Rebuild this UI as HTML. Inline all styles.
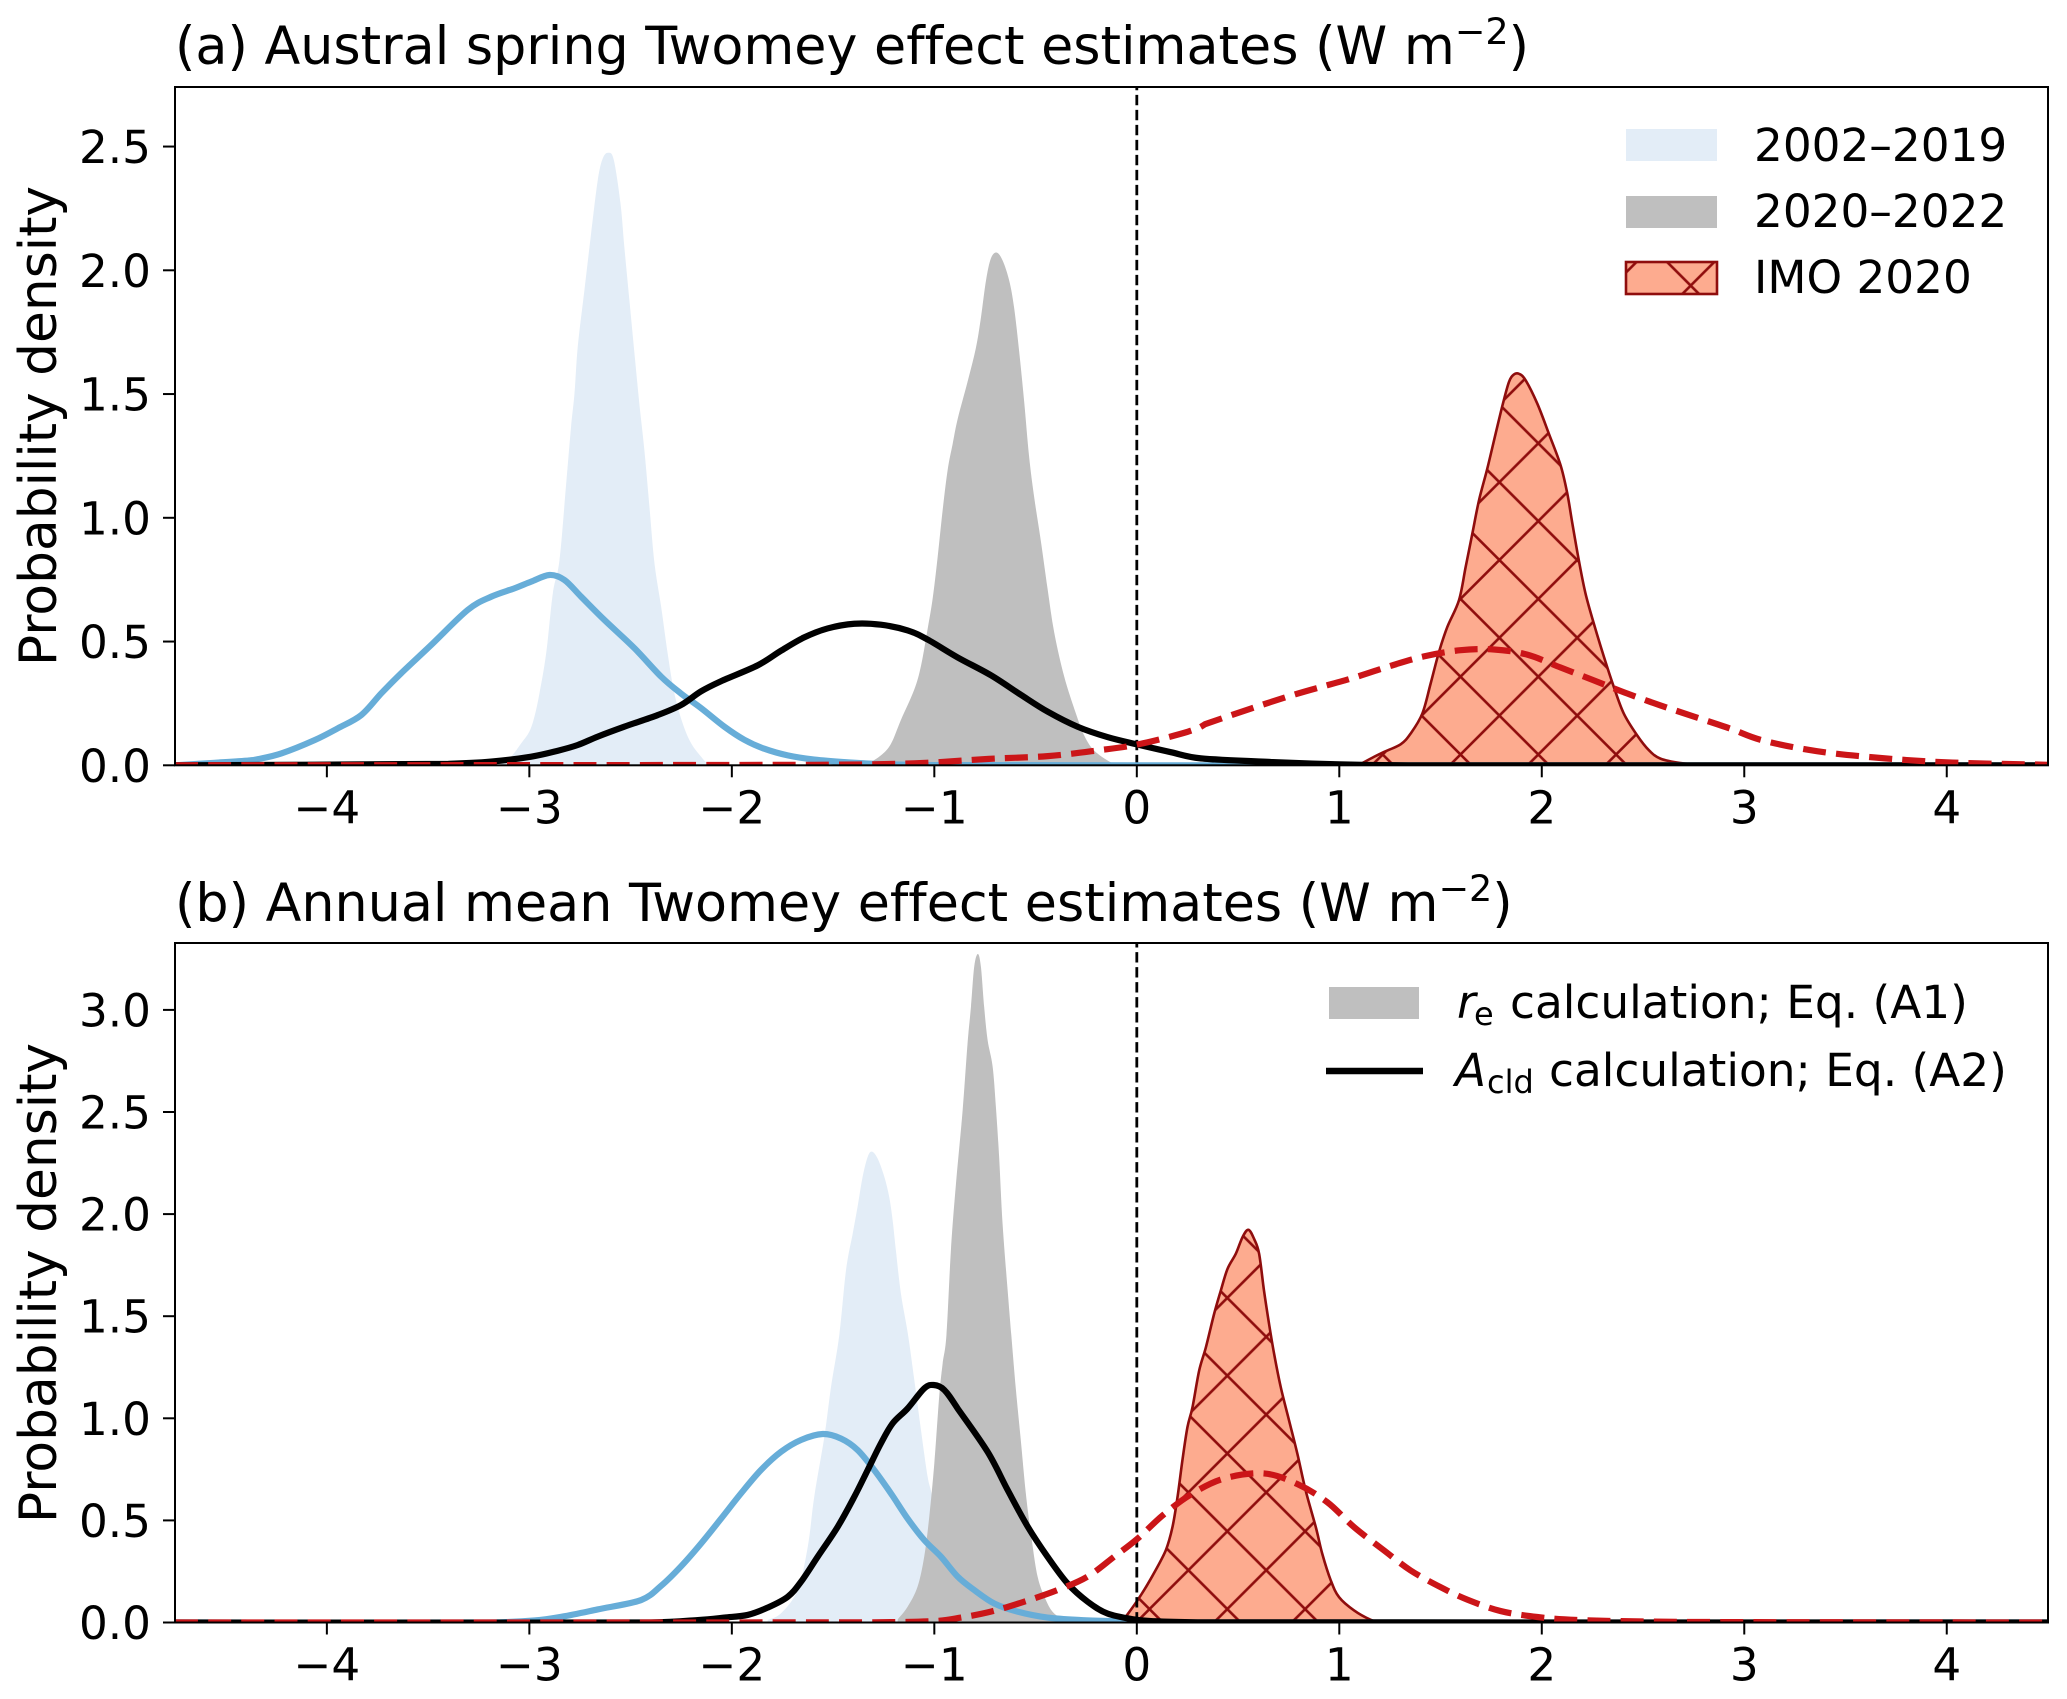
<!DOCTYPE html>
<html>
<head>
<meta charset="utf-8">
<title>Twomey effect estimates</title>
<style>
html,body{margin:0;padding:0;background:#fff;}
svg{display:block;}
text{font-family:"DejaVu Sans","Liberation Sans",sans-serif;fill:#000;font-variant-ligatures:none;}
</style>
</head>
<body>
<svg id="figure" xmlns="http://www.w3.org/2000/svg" width="2067" height="1699" viewBox="0 0 2067 1699">
  <rect x="0" y="0" width="2067" height="1699" fill="#fff"/>
  <defs>
    <clipPath id="clipA"><rect x="175" y="86" width="1873" height="679.6"/></clipPath>
    <clipPath id="clipB"><rect x="175" y="943" width="1873" height="679.6"/></clipPath>
    <pattern id="hatchA" patternUnits="userSpaceOnUse" width="77.8" height="77.8" patternTransform="translate(1538.3 443.3)">
      <path d="M0 0L77.8 77.8M0 77.8L77.8 0" stroke="#8f0d0d" stroke-width="2.6" fill="none"/>
    </pattern>
    <pattern id="hatchB" patternUnits="userSpaceOnUse" width="77.8" height="77.8" patternTransform="translate(1227.3 1375.7)">
      <path d="M0 0L77.8 77.8M0 77.8L77.8 0" stroke="#8f0d0d" stroke-width="2.6" fill="none"/>
    </pattern>
    <pattern id="hatchL" patternUnits="userSpaceOnUse" width="77.8" height="77.8" patternTransform="translate(1690.7 285.6)">
      <path d="M0 0L77.8 77.8M0 77.8L77.8 0" stroke="#8f0d0d" stroke-width="2.6" fill="none"/>
    </pattern>
  </defs>

  <g id="panelA"></g>
  <g id="panelB"></g>

  <text x="175" y="64" font-size="52.3">(a) Austral spring Twomey effect estimates (W m<tspan dy="-20" font-size="36.5">−2</tspan><tspan dy="20">)</tspan></text>
  <text x="175" y="921" font-size="52.3">(b) Annual mean Twomey effect estimates (W m<tspan dy="-20" font-size="36.5">−2</tspan><tspan dy="20">)</tspan></text>
  <text transform="translate(56 426) rotate(-90)" text-anchor="middle" font-size="51.8">Probability density</text>
  <text transform="translate(56 1283) rotate(-90)" text-anchor="middle" font-size="51.8">Probability density</text>

  <g>
    <rect x="1626" y="129" width="91" height="32" fill="#e3edf7"/>
    <text x="1754" y="161" font-size="45.3">2002–2019</text>
    <rect x="1626" y="196" width="91" height="32" fill="#bfbfbf"/>
    <text x="1754" y="227" font-size="45.3">2020–2022</text>
    <rect x="1626" y="262" width="91" height="32" fill="#fdab8f"/>
    <rect x="1626" y="262" width="91" height="32" fill="url(#hatchL)" stroke="#8f0d0d" stroke-width="2.6"/>
    <text x="1754" y="293" font-size="45.3">IMO 2020</text>
  </g>

  <g>
    <rect x="1329" y="987" width="90" height="32" fill="#bfbfbf"/>
    <text font-size="45.4"><tspan x="1457" y="1018" font-style="italic">r</tspan><tspan x="1474" y="1025" font-size="32">e</tspan><tspan x="1510" y="1018">calculation; Eq. (A1)</tspan></text>
    <line x1="1326" y1="1071" x2="1423" y2="1071" stroke="#000" stroke-width="6.4"/>
    <text font-size="45.4"><tspan x="1455" y="1086" font-style="italic">A</tspan><tspan x="1487" y="1093" font-size="32">cld</tspan><tspan x="1549" y="1086">calculation; Eq. (A2)</tspan></text>
  </g>
</svg>

<script>
// ---------- shared axis values ----------
var xTickValues = [-4, -3, -2, -1, 0, 1, 2, 3, 4];
var xTickLabels = ["−4", "−3", "−2", "−1", "0", "1", "2", "3", "4"];
var aYTickValues = [0, 0.5, 1, 1.5, 2, 2.5];
var aYTickLabels = ["0.0", "0.5", "1.0", "1.5", "2.0", "2.5"];
var bYTickValues = [0, 0.5, 1, 1.5, 2, 2.5, 3];
var bYTickLabels = ["0.0", "0.5", "1.0", "1.5", "2.0", "2.5", "3.0"];

// ---------- panel (a) series ----------
var aFillBlueX = [-3.14,-3.09,-3.04,-3.0,-2.975,-2.95,-2.917,-2.884,-2.851,-2.818,-2.794,-2.777,-2.761,-2.728,-2.695,-2.662,-2.637,-2.61,-2.583,-2.55,-2.531,-2.506,-2.481,-2.457,-2.432,-2.407,-2.382,-2.349,-2.317,-2.284,-2.243,-2.201,-2.152,-2.119,-2.07];
var aFillBlueY = [0.005,0.035,0.089,0.136,0.196,0.291,0.452,0.695,0.83,1.139,1.368,1.503,1.691,1.92,2.149,2.365,2.453,2.475,2.446,2.271,2.095,1.88,1.665,1.463,1.274,1.045,0.816,0.64,0.452,0.291,0.17,0.089,0.035,0.008,0];

var aFillGrayX = [-1.329,-1.264,-1.214,-1.165,-1.099,-1.066,-1.033,-1.008,-0.984,-0.959,-0.934,-0.91,-0.885,-0.836,-0.795,-0.77,-0.745,-0.721,-0.693,-0.663,-0.63,-0.606,-0.581,-0.556,-0.532,-0.507,-0.474,-0.441,-0.408,-0.359,-0.301,-0.26,-0.211,-0.128,-0.079];
var aFillGrayY = [0.005,0.04,0.087,0.183,0.306,0.401,0.551,0.675,0.838,1.03,1.194,1.296,1.398,1.549,1.685,1.808,1.958,2.047,2.072,2.04,1.958,1.849,1.672,1.467,1.248,1.084,0.907,0.715,0.537,0.36,0.21,0.121,0.06,0.012,0];

var aFillImoX = [1.114,1.171,1.221,1.303,1.352,1.41,1.451,1.492,1.533,1.591,1.624,1.657,1.69,1.731,1.772,1.808,1.838,1.862,1.887,1.92,1.978,2.035,2.093,2.126,2.151,2.183,2.216,2.257,2.307,2.356,2.405,2.471,2.529,2.586,2.685,2.817];
var aFillImoY = [0.009,0.034,0.054,0.085,0.128,0.209,0.33,0.457,0.558,0.667,0.801,0.936,1.071,1.199,1.34,1.461,1.549,1.579,1.582,1.556,1.461,1.34,1.212,1.098,0.977,0.828,0.694,0.573,0.438,0.316,0.209,0.121,0.061,0.027,0.009,0];

var aLineBlueX = [-4.75,-4.554,-4.39,-4.34,-4.225,-4.06,-3.945,-3.83,-3.731,-3.633,-3.485,-3.304,-3.189,-3.074,-2.991,-2.901,-2.827,-2.744,-2.629,-2.481,-2.349,-2.251,-2.152,-2.037,-1.938,-1.84,-1.724,-1.593,-1.428,-1.264,-1.0,0,4.5];
var aLineBlueY = [0,0.01,0.019,0.025,0.048,0.102,0.15,0.203,0.291,0.372,0.486,0.628,0.681,0.715,0.742,0.769,0.749,0.681,0.587,0.473,0.358,0.29,0.231,0.156,0.103,0.067,0.04,0.023,0.012,0.005,0.001,0,0];

var aLineBlackX = [-4.75,-3.4,-3.189,-2.991,-2.859,-2.761,-2.662,-2.531,-2.366,-2.25,-2.152,-2.053,-1.872,-1.757,-1.642,-1.527,-1.395,-1.264,-1.132,-1.033,-0.885,-0.721,-0.573,-0.441,-0.293,-0.145,0.003,0.168,0.316,0.672,1.0,1.34,4.5];
var aLineBlackY = [0,0.006,0.015,0.035,0.059,0.082,0.116,0.156,0.203,0.244,0.299,0.34,0.404,0.463,0.517,0.553,0.572,0.568,0.545,0.508,0.436,0.364,0.285,0.217,0.156,0.114,0.084,0.053,0.028,0.013,0.004,0,0];

var aLineRedX = [-4.75,-1.6,-1.1,-0.73,-0.44,-0.194,0.003,0.25,0.337,0.739,1.056,1.254,1.418,1.599,1.764,1.928,2.093,2.257,2.422,2.586,2.751,2.932,3.09,3.359,3.695,4.03,4.5];
var aLineRedY = [0,0.002,0.008,0.026,0.037,0.06,0.084,0.135,0.166,0.276,0.35,0.402,0.44,0.465,0.468,0.447,0.395,0.343,0.29,0.242,0.197,0.148,0.101,0.057,0.028,0.011,0.002];

// ---------- panel (b) series ----------
var bFillBlueX = [-1.823,-1.757,-1.675,-1.625,-1.593,-1.543,-1.51,-1.469,-1.436,-1.403,-1.379,-1.354,-1.329,-1.308,-1.28,-1.247,-1.223,-1.206,-1.19,-1.165,-1.13,-1.099,-1.066,-1.033,-1.008,-0.95,-0.88,-0.8,-0.7];
var bFillBlueY = [0.012,0.045,0.159,0.371,0.616,0.91,1.155,1.41,1.726,1.905,2.036,2.183,2.281,2.306,2.272,2.183,2.085,1.971,1.824,1.611,1.41,1.188,0.943,0.714,0.6,0.25,0.08,0.02,0];

var bFillGrayX = [-1.181,-1.132,-1.083,-1.05,-1.025,-1.0,-0.976,-0.959,-0.94,-0.918,-0.893,-0.86,-0.836,-0.819,-0.803,-0.785,-0.77,-0.754,-0.737,-0.712,-0.696,-0.68,-0.663,-0.638,-0.62,-0.597,-0.573,-0.548,-0.523,-0.49,-0.449,-0.408,-0.342,-0.3];
var bFillGrayY = [0.015,0.077,0.175,0.322,0.518,0.779,1.106,1.268,1.41,1.824,2.15,2.51,2.835,3.016,3.212,3.274,3.212,3.016,2.853,2.722,2.526,2.281,1.954,1.628,1.41,1.139,0.894,0.632,0.436,0.225,0.11,0.044,0.009,0];

var bFillImoX = [-0.062,0.003,0.069,0.143,0.176,0.201,0.225,0.25,0.275,0.308,0.341,0.382,0.415,0.448,0.489,0.522,0.551,0.579,0.604,0.628,0.653,0.678,0.711,0.752,0.793,0.834,0.884,0.916,0.958,0.999,1.073,1.155,1.204];
var bFillImoY = [0.018,0.108,0.214,0.353,0.467,0.614,0.793,0.956,1.054,1.234,1.347,1.512,1.626,1.732,1.806,1.887,1.923,1.879,1.806,1.626,1.463,1.316,1.152,0.989,0.826,0.646,0.467,0.336,0.206,0.124,0.059,0.013,0];

var bLineBlueX = [-4.75,-3.2,-2.975,-2.836,-2.663,-2.448,-2.349,-2.251,-2.152,-2.053,-1.955,-1.856,-1.757,-1.658,-1.551,-1.461,-1.379,-1.297,-1.214,-1.132,-1.05,-0.967,-0.885,-0.803,-0.704,-0.589,-0.441,-0.276,-0.063,0.1,4.5];
var bLineBlueY = [0,0,0.01,0.029,0.064,0.11,0.18,0.275,0.387,0.509,0.632,0.747,0.836,0.894,0.923,0.901,0.845,0.747,0.632,0.509,0.404,0.322,0.225,0.159,0.093,0.053,0.024,0.012,0.005,0,0];

var bLineBlackX = [-4.75,-2.4,-2.168,-2.037,-1.922,-1.823,-1.724,-1.658,-1.576,-1.477,-1.395,-1.329,-1.264,-1.206,-1.132,-1.05,-1.003,-0.951,-0.885,-0.737,-0.638,-0.539,-0.441,-0.342,-0.243,-0.145,-0.013,0.084,0.3,4.5];
var bLineBlackY = [0,0,0.012,0.024,0.037,0.073,0.126,0.2,0.322,0.469,0.616,0.747,0.877,0.975,1.048,1.146,1.163,1.139,1.048,0.836,0.649,0.47,0.322,0.191,0.102,0.044,0.015,0.006,0.001,0];

var bLineRedX = [-4.75,-1.3,-1.0,-0.869,-0.721,-0.556,-0.391,-0.243,-0.112,0.003,0.127,0.267,0.431,0.628,0.793,0.941,1.073,1.221,1.352,1.5,1.632,1.797,1.978,2.18,2.69,4.5];
var bLineRedY = [0,0.001,0.007,0.024,0.053,0.102,0.159,0.225,0.322,0.41,0.524,0.627,0.705,0.73,0.678,0.589,0.467,0.353,0.255,0.173,0.112,0.056,0.027,0.012,0.003,0];

// ---------- drawing ----------
var SVG_NS = "http://www.w3.org/2000/svg";
var plotLeft = 175, plotRight = 2048;
var xDomainMin = -4.75, xDomainMax = 4.5;

function xScale(v) {
  return plotLeft + (v - xDomainMin) * (plotRight - plotLeft) / (xDomainMax - xDomainMin);
}
function makeYScale(baseline, pixelsPerUnit) {
  return function (v) { return baseline - v * pixelsPerUnit; };
}
function curvePath(xs, ys, yScale) {
  var px = xs.map(xScale);
  var py = ys.map(yScale);
  var d = "M" + px[0].toFixed(2) + " " + py[0].toFixed(2);
  for (var i = 0; i < px.length - 1; i++) {
    var i0 = Math.max(i - 1, 0), i3 = Math.min(i + 2, px.length - 1);
    var k = 1 / 6;
    var seg = px[i + 1] - px[i];
    var dx1 = Math.max(Math.min((px[i + 1] - px[i0]) * k, seg / 2), 0);
    var dx2 = Math.max(Math.min((px[i3] - px[i]) * k, seg / 2), 0);
    var c1x = px[i] + dx1;
    var c1y = py[i] + (py[i + 1] - py[i0]) * k;
    var c2x = px[i + 1] - dx2;
    var c2y = py[i + 1] - (py[i3] - py[i]) * k;
    d += "C" + c1x.toFixed(2) + " " + c1y.toFixed(2) + " " + c2x.toFixed(2) + " " + c2y.toFixed(2) + " " + px[i + 1].toFixed(2) + " " + py[i + 1].toFixed(2);
  }
  return d;
}
function areaPath(xs, ys, yScale) {
  var base = yScale(0);
  return "M" + xScale(xs[0]).toFixed(2) + " " + base.toFixed(2) + "L" + curvePath(xs, ys, yScale).slice(1) + "L" + xScale(xs[xs.length - 1]).toFixed(2) + " " + base.toFixed(2) + "Z";
}
function addNode(parent, tag) {
  var el = document.createElementNS(SVG_NS, tag);
  parent.appendChild(el);
  return el;
}

function drawPanel(cfg) {
  var root = document.getElementById(cfg.rootId);
  var yScale = makeYScale(cfg.baseline, cfg.pixelsPerUnit);
  var marks = addNode(root, "g");
  marks.setAttribute("clip-path", "url(#" + cfg.clipId + ")");
  
  

  var fillBlue = addNode(marks, "path");
  fillBlue.setAttribute("d", areaPath(cfg.fillBlueX, cfg.fillBlueY, yScale));
  fillBlue.setAttribute("fill", "#e3edf7");
  
  

  var fillGray = addNode(marks, "path");
  fillGray.setAttribute("d", areaPath(cfg.fillGrayX, cfg.fillGrayY, yScale));
  fillGray.setAttribute("fill", "#bfbfbf");
  
  

  var fillImo = addNode(marks, "path");
  fillImo.setAttribute("d", areaPath(cfg.fillImoX, cfg.fillImoY, yScale));
  fillImo.setAttribute("fill", "#fdab8f");
  
  

  var hatchImo = addNode(marks, "path");
  hatchImo.setAttribute("d", areaPath(cfg.fillImoX, cfg.fillImoY, yScale));
  hatchImo.setAttribute("fill", "url(#" + cfg.hatchId + ")");
  hatchImo.setAttribute("stroke", "#8f0d0d");
  hatchImo.setAttribute("stroke-width", "2.6");
  
  

  var zeroLine = addNode(marks, "line");
  zeroLine.setAttribute("x1", xScale(0));
  zeroLine.setAttribute("x2", xScale(0));
  zeroLine.setAttribute("y1", cfg.baseline);
  zeroLine.setAttribute("y2", cfg.top);
  zeroLine.setAttribute("stroke", "#000");
  zeroLine.setAttribute("stroke-width", "2.8");
  zeroLine.setAttribute("stroke-dasharray", "10.4 4.6");
  
  

  var lineBlue = addNode(marks, "path");
  lineBlue.setAttribute("d", curvePath(cfg.lineBlueX, cfg.lineBlueY, yScale));
  lineBlue.setAttribute("fill", "none");
  lineBlue.setAttribute("stroke", "#67add8");
  lineBlue.setAttribute("stroke-width", "6.2");
  
  

  var lineBlack = addNode(marks, "path");
  lineBlack.setAttribute("d", curvePath(cfg.lineBlackX, cfg.lineBlackY, yScale));
  lineBlack.setAttribute("fill", "none");
  lineBlack.setAttribute("stroke", "#000");
  lineBlack.setAttribute("stroke-width", "6.2");
  
  

  var lineRed = addNode(marks, "path");
  lineRed.setAttribute("d", curvePath(cfg.lineRedX, cfg.lineRedY, yScale));
  lineRed.setAttribute("fill", "none");
  lineRed.setAttribute("stroke", "#cb1518");
  lineRed.setAttribute("stroke-width", "6.2");
  lineRed.setAttribute("stroke-dasharray", "23 10.2");
  
  

  var frame = addNode(root, "rect");
  frame.setAttribute("x", plotLeft);
  frame.setAttribute("y", cfg.top);
  frame.setAttribute("width", plotRight - plotLeft);
  frame.setAttribute("height", cfg.baseline - cfg.top);
  frame.setAttribute("fill", "none");
  frame.setAttribute("stroke", "#000");
  frame.setAttribute("stroke-width", "2");
  
  

  xTickValues.forEach(function (v, i) {
    var tick = addNode(root, "line");
    tick.setAttribute("x1", xScale(v));
    tick.setAttribute("x2", xScale(v));
    tick.setAttribute("y1", cfg.baseline);
    tick.setAttribute("y2", cfg.baseline + 12);
    tick.setAttribute("stroke", "#000");
    tick.setAttribute("stroke-width", "2");
    
    
    var label = addNode(root, "text");
    label.setAttribute("x", xScale(v));
    label.setAttribute("y", cfg.baseline + 58);
    label.setAttribute("text-anchor", "middle");
    label.setAttribute("font-size", "45.3");
    label.textContent = xTickLabels[i];
    
    
  });

  cfg.yTickValues.forEach(function (v, i) {
    var tick = addNode(root, "line");
    tick.setAttribute("x1", plotLeft - 12);
    tick.setAttribute("x2", plotLeft);
    tick.setAttribute("y1", yScale(v));
    tick.setAttribute("y2", yScale(v));
    tick.setAttribute("stroke", "#000");
    tick.setAttribute("stroke-width", "2");
    
    
    var label = addNode(root, "text");
    label.setAttribute("x", plotLeft - 24);
    label.setAttribute("y", yScale(v) + 16.5);
    label.setAttribute("text-anchor", "end");
    label.setAttribute("font-size", "45.3");
    label.textContent = cfg.yTickLabels[i];
    
    
  });
}

drawPanel({
  rootId: "panelA", clipId: "clipA", hatchId: "hatchA",
  baseline: 765.3, top: 87, pixelsPerUnit: 247.5,
  yTickValues: aYTickValues, yTickLabels: aYTickLabels,
  fillBlueX: aFillBlueX, fillBlueY: aFillBlueY,
  fillGrayX: aFillGrayX, fillGrayY: aFillGrayY,
  fillImoX: aFillImoX, fillImoY: aFillImoY,
  lineBlueX: aLineBlueX, lineBlueY: aLineBlueY,
  lineBlackX: aLineBlackX, lineBlackY: aLineBlackY,
  lineRedX: aLineRedX, lineRedY: aLineRedY
});
drawPanel({
  rootId: "panelB", clipId: "clipB", hatchId: "hatchB",
  baseline: 1622.5, top: 943, pixelsPerUnit: 204.2,
  yTickValues: bYTickValues, yTickLabels: bYTickLabels,
  fillBlueX: bFillBlueX, fillBlueY: bFillBlueY,
  fillGrayX: bFillGrayX, fillGrayY: bFillGrayY,
  fillImoX: bFillImoX, fillImoY: bFillImoY,
  lineBlueX: bLineBlueX, lineBlueY: bLineBlueY,
  lineBlackX: bLineBlackX, lineBlackY: bLineBlackY,
  lineRedX: bLineRedX, lineRedY: bLineRedY
});
</script>
</body>
</html>
